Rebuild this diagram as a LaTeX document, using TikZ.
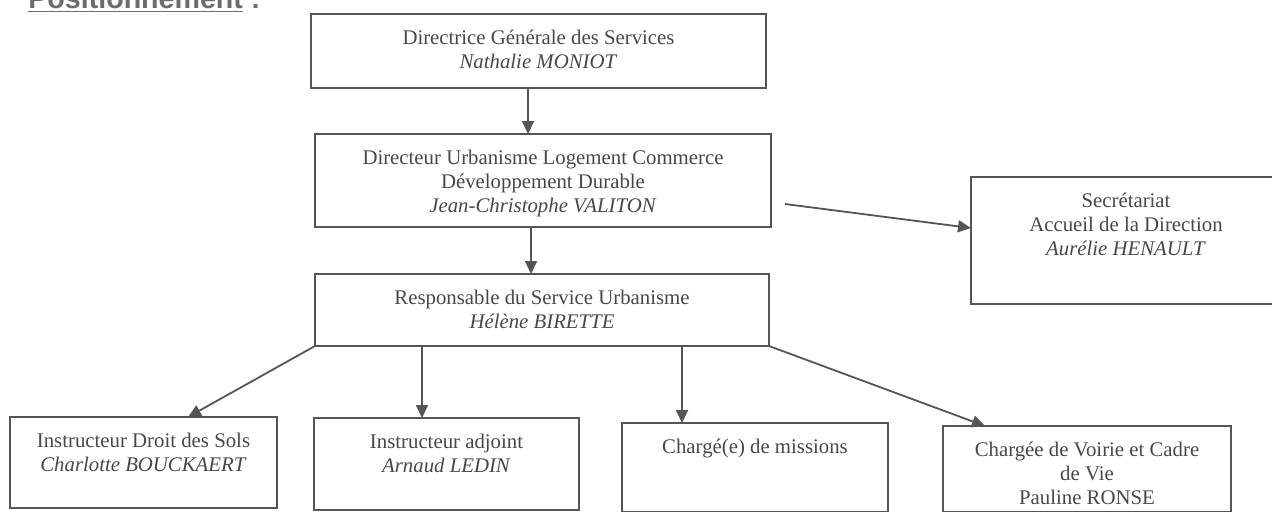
\documentclass[tikz,border=0pt]{standalone}
\usepackage{fontspec}
\setmainfont{Liberation Serif}
\newfontfamily\titrefont{Liberation Sans}
\usetikzlibrary{calc, arrows.meta, positioning}
\definecolor{trait}{HTML}{555555}
\definecolor{encre}{HTML}{474747}
\tikzset{boite/.style={draw=trait, line width=0.9pt, rectangle, inner sep=0pt, outer sep=0pt},
  txt/.style={align=center, inner sep=0pt, text=encre, font=\fontsize{10.4}{12}\selectfont},
  fleche/.style={draw=trait, line width=0.9pt, -{Triangle[length=6.5pt, width=6pt]}}}

\begin{document}
\begin{tikzpicture}[x=0.5pt, y=-0.5pt]
  \useasboundingbox (0,0) rectangle (1272,511);
  \clip (0,0) rectangle (1272,511);
  \node[anchor=base west, inner sep=0pt, text=encre!80, font=\titrefont\bfseries\fontsize{14.3}{16}\selectfont] (titre) at (28,8) {\underline{Positionnement} :};
  % les cases
  \foreach \n/\x/\y/\w/\h in {dgs/538.5/51/455/74, dir/543/180.5/456/93, sec/1126/240.5/310/127,
      resp/542/310/454/72, ids/143.5/462.5/267/91, adj/446.5/464/265/92, mis/755/467.5/266/89, voi/1087/469/288/86}
    \node[boite, minimum width=\w*0.5pt, minimum height=\h*0.5pt] (\n) at (\x,\y) {};
  % les textes
  \node[txt, below=8pt of dgs.north] (tdgs) {Directrice Générale des Services\\\textit{Nathalie MONIOT}};
  \node[txt, below=8pt of dir.north] (tdir) {Directeur Urbanisme Logement Commerce\\Développement Durable\\\textit{Jean-Christophe VALITON}};
  \node[txt, below=8pt of sec.north] (tsec) {Secrétariat\\Accueil de la Direction\\\textit{Aurélie HENAULT}};
  \node[txt, below=8pt of resp.north] (tresp) {Responsable du Service Urbanisme\\\textit{Hélène BIRETTE}};
  \node[txt, below=8pt of ids.north] (tids) {Instructeur Droit des Sols\\\textit{Charlotte BOUCKAERT}};
  \node[txt, below=8pt of adj.north] (tadj) {Instructeur adjoint\\\textit{Arnaud LEDIN}};
  \node[txt, below=8pt of mis.north] (tmis) {Chargé(e) de missions};
  \node[txt, below=8pt of voi.north] (tvoi) {Chargée de Voirie et Cadre\\de Vie\\Pauline RONSE};
  % les fleches
  \draw[fleche] ($(dgs.south)+(-10.5,0)$) -- ($(dir.north)+(-15,0)$);
  \draw[fleche] ($(dir.south)+(-12,0)$) -- ($(resp.north)+(-11,0)$);
  \draw[fleche] ($(dir.east)+(14,23.5)$) -- ($(sec.west)+(0,-12.5)$);
  \draw[fleche] (resp.south west) -- ($(ids.north)+(44.5,0)$);
  \draw[fleche] ($(resp.south)+(-120,0)$) -- ($(adj.north)+(-24.5,0)$);
  \draw[fleche] ($(resp.south)+(140,0)$) -- ($(mis.north)+(-73,0)$);
  \draw[fleche] (resp.south east) -- ($(voi.north)+(-102,0)$);
\end{tikzpicture}
\end{document}
